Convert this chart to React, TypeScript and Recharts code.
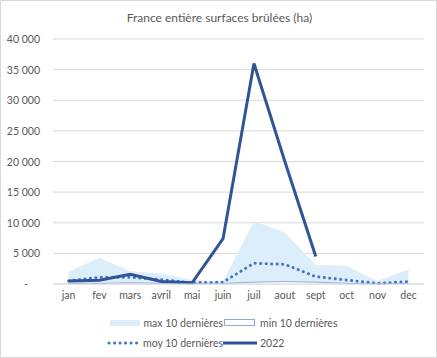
import React from 'react';
import { ComposedChart, Area, Line, XAxis, YAxis, CartesianGrid } from 'recharts';

const MONTHS = ['jan', 'fev', 'mars', 'avril', 'mai', 'juin', 'juil', 'aout', 'sept', 'oct', 'nov', 'dec'];
const MAX_10 = [2000, 4300, 2100, 1700, 700, 400, 10300, 8400, 3100, 3000, 500, 2400];
const MIN_10 = [100, 100, 200, 100, 50, 100, 300, 400, 300, 100, 50, 100];
const MOY_10 = [500, 1100, 1100, 700, 200, 300, 3400, 3200, 1200, 650, 100, 400];
const Y2022 = [500, 600, 1600, 400, 200, 7400, 36000, 20000, 4500, null, null, null];
const Y_TICKS = [0, 5000, 10000, 15000, 20000, 25000, 30000, 35000, 40000];

const data = MONTHS.map((m, i) => ({
  month: m,
  max: MAX_10[i],
  min: MIN_10[i],
  moy: MOY_10[i],
  y2022: Y2022[i]
}));

const FONT = 'Lato, "Liberation Sans", sans-serif';
const TEXT = '#595959';

const fmt = (v: number) => String(v).replace(/\B(?=(\d{3})+(?!\d))/g, ' ');

function YTick({ x, y, payload }: any) {
  const v = payload.value;
  return (
    <text x={v === 0 ? x - 17 : x - 5} y={y} dy={4} textAnchor="end" fontSize={10.5} fill={TEXT} fontFamily={FONT}>
      {v === 0 ? '-' : fmt(v)}
    </text>
  );
}

function LegendItem({ swatch, label }: { swatch: React.ReactNode; label: string }) {
  return (
    <div style={{ display: 'flex', alignItems: 'center', whiteSpace: 'nowrap', height: 12 }}>
      <svg width={34} height={10} style={{ marginRight: 3 }}>{swatch}</svg>
      <span>{label}</span>
    </div>
  );
}

export default function App() {
  return (
    <div style={{ position: 'fixed', left: 0, top: 0, width: 437, height: 358, background: '#fff', fontFamily: FONT, color: TEXT, boxSizing: 'border-box', border: '1px solid #d9d9d9' }}>
      <div style={{ position: 'absolute', top: 9, left: 0, width: 437, textAlign: 'center', fontSize: 12 }}>
        France entière surfaces brûlées (ha)
      </div>
      <div style={{ position: 'absolute', left: -1, top: -1 }}>
        <ComposedChart width={437} height={358} data={data} margin={{ top: 39, right: 13, bottom: 44, left: 0 }}>
          <CartesianGrid vertical={false} stroke="#d9d9d9" />
          <XAxis dataKey="month" axisLine={{ stroke: '#d9d9d9' }} tickLine={false} height={30}
            padding={{ left: 15.5, right: 15.5 }}
            tick={{ fontSize: 10.5, fill: TEXT, fontFamily: FONT }} />
          <YAxis width={53} domain={[0, 40000]} ticks={Y_TICKS} axisLine={false} tickLine={false} tick={<YTick />} />
          <Area dataKey="max" type="linear" fill="#DDEEFB" fillOpacity={1} stroke="none" isAnimationActive={false} />
          <Area dataKey="min" type="linear" fill="#ffffff" fillOpacity={1} stroke="#8FAADC" strokeWidth={1} isAnimationActive={false} />
          <Line dataKey="moy" type="linear" stroke="#4472C4" strokeWidth={3} strokeDasharray="0.1 5.4" strokeLinecap="round" dot={false} isAnimationActive={false} />
          <Line dataKey="y2022" type="linear" stroke="#2F5597" strokeWidth={3} dot={false} connectNulls={false} isAnimationActive={false} />
        </ComposedChart>
      </div>
      <div style={{ position: 'absolute', left: 106, top: 316, fontSize: 10.5, lineHeight: '12px', display: 'grid', gridTemplateColumns: '116px 140px', rowGap: 8 }}>
        <LegendItem label="max 10 dernières" swatch={<rect x={3} y={2} width={30} height={6} fill="#DDEEFB" />} />
        <LegendItem label="min 10 dernières" swatch={<rect x={1.5} y={1.5} width={30} height={6} fill="#fff" stroke="#8FAADC" />} />
        <LegendItem label="moy 10 dernières" swatch={<line x1={2} y1={5} x2={33} y2={5} stroke="#4472C4" strokeWidth={3} strokeDasharray="0.1 5.4" strokeLinecap="round" />} />
        <LegendItem label="2022" swatch={<line x1={0} y1={5} x2={34} y2={5} stroke="#2F5597" strokeWidth={3} />} />
      </div>
    </div>
  );
}
